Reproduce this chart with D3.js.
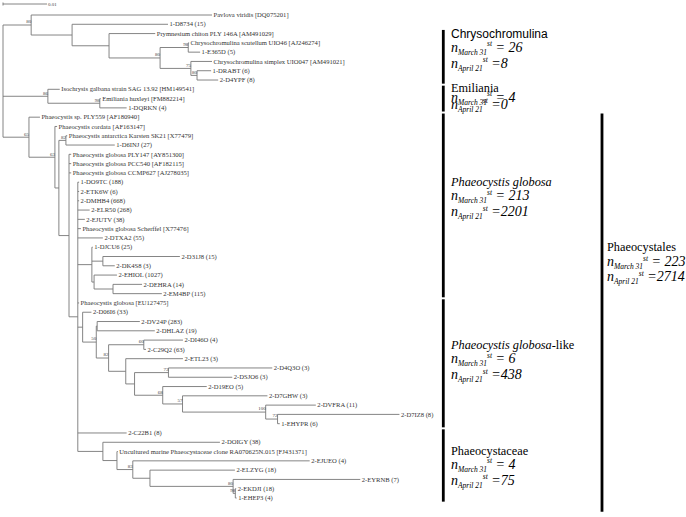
<!DOCTYPE html>
<html>
<head>
<meta charset="utf-8">
<script src="https://cdn.jsdelivr.net/npm/d3@7"></script>
<style>
  body { margin: 0; background: #fff; }
  svg { display: block; }
  .serif { font-family: "Liberation Serif", "Times New Roman", "DejaVu Serif", serif; }
  .sans { font-family: "Liberation Sans", Arial, "DejaVu Sans", sans-serif; }
</style>
</head>
<body>
<div id="chart"></div>
<script>
//////////////////////////// data /////////////////////////////////////////

// [node, parent, branch length (subst./site), bootstrap]
const branches = [
	["root", "", 0, null],
	["c1", "root", 0.0064, 80],
	["Pavlova viridis [DQ075201]", "c1", 0.0411],
	["c2", "c1", 0.0093],
	["1-D8734 (15)", "c2", 0.0218],
	["c3", "c2", 0.0084],
	["Prymnesium chiton PLY 146A [AM491029]", "c3", 0.0105],
	["c4", "c3", 0.0116, 80],
	["c5", "c4", 0.0064, 98],
	["Chrysochromulina scutellum UIO46 [AJ246274]", "c5", 0.0002],
	["1-E365D (5)", "c5", 0.0027],
	["c6", "c4", 0.007, 75],
	["Chrysochromulina simplex UIO047 [AM491021]", "c6", 0.0048],
	["c7", "c6", 0.0014, 80],
	["1-DRABT (6)", "c7", 0.0032],
	["2-D4YPF (8)", "c7", 0.0048],
	["e1", "root", 0.0102, 86],
	["Isochrysis galbana strain SAG 13.92 [HM149541]", "e1", 0.0027],
	["e2", "e1", 0.0118, 98],
	["Emiliania huxleyi [FM882214]", "e2", 0.0002],
	["1-DQRKN (4)", "e2", 0.0061],
	["p0", "root", 0.0059, 65],
	["Phaeocystis sp. PLY559 [AF180940]", "p0", 0.0025],
	["p1", "p0", 0.0059, 63],
	["Phaeocystis cordata [AF163147]", "p1", 0.0005],
	["p3", "p1", 0.0009],
	["p2", "p3", 0.0016, 82],
	["Phaeocystis antarctica Karsten SK21 [X77479]", "p2", 0.0003],
	["1-D6INJ (27)", "p2", 0.0111],
	["p5", "p3", 0.0023],
	["Phaeocystis globosa PLY147 [AY851300]", "p5", 0.0005],
	["Phaeocystis globosa PCC540 [AF182115]", "p5", 0.0005],
	["Phaeocystis globosa CCMP627 [AJ278035]", "p5", 0.0005],
	["g", "p5", 0.002],
	["1-DO9TC (188)", "g", 0.0003],
	["2-ETK6W (6)", "g", 0.0003],
	["2-DMHB4 (668)", "g", 0.0003],
	["2-ELR50 (268)", "g", 0.0027],
	["2-EJUTV (38)", "g", 0.0016],
	["Phaeocystis globosa Scherffel [X77476]", "g", 0.0007],
	["2-DTXA2 (55)", "g", 0.0057],
	["j1", "g", 0.0032],
	["1-DJCU6 (25)", "j1", 0.0002],
	["j2", "j1", 0.0025],
	["2-D31J8 (15)", "j2", 0.0175],
	["2-DK4S8 (3)", "j2", 0.0027],
	["j3", "j1", 0.0005],
	["2-EHIOL (1027)", "j3", 0.0052],
	["j4", "j3", 0.0043],
	["2-DEHRA (14)", "j4", 0.0066],
	["2-EM4BP (115)", "j4", 0.0111],
	["Phaeocystis globosa [EU127475]", "g", 0.0003],
	["q0", "g", 0.0011],
	["2-D06I6 (33)", "q0", 0.002],
	["q1", "q0", 0.0031, 50],
	["q2", "q1", 0.0002],
	["2-DV24P (283)", "q2", 0.0097],
	["2-DHLAZ (19)", "q2", 0.0131],
	["q3", "q1", 0.0028, 82],
	["q4", "q3", 0.008, 60],
	["2-DI46O (4)", "q4", 0.0089],
	["2-C29Q2 (63)", "q4", 0.0005],
	["r1", "q3", 0.0039],
	["2-ETL23 (3)", "r1", 0.013],
	["r2", "r1", 0.002],
	["r3", "r2", 0.0077, 73],
	["2-D4Q3O (3)", "r3", 0.0236],
	["2-DSJO6 (3)", "r3", 0.0145],
	["r4", "r2", 0.0064, 68],
	["2-D19EO (5)", "r4", 0.01],
	["r5", "r4", 0.0045, 57],
	["2-D7GHW (3)", "r5", 0.0193],
	["r6", "r5", 0.0189, 100],
	["2-DVFRA (11)", "r6", 0.0114],
	["r7", "r6", 0.0027, 72],
	["2-D7IZ8 (8)", "r7", 0.0277],
	["1-EHYPR (6)", "r7", 0.0005],
	["2-C22B1 (8)", "g", 0.0111],
	["f1", "g", 0.0057],
	["2-DOIGY (38)", "f1", 0.0266],
	["f2", "f1", 0.0032],
	["Uncultured marine Phaeocystaceae clone RA070625N.015 [FJ431371]", "f2", 0.0002],
	["f3", "f2", 0.0036, 83],
	["2-EJUEO (4)", "f3", 0.0402],
	["f4", "f3", 0.0039],
	["2-ELZYG (18)", "f4", 0.0193],
	["f5", "f4", 0.0189, 80],
	["2-EYRNB (7)", "f5", 0.0289],
	["f6", "f5", 0.0005, 98],
	["2-EKDJI (18)", "f6", 0.0002],
	["1-EHEP3 (4)", "f6", 0.0003]
];

const scaleBarLength = 0.01;

// clade brackets on the right
const cladeNames = ["Chrysochromulina", "Emiliania", "Phaeocystis globosa", "Phaeocystis globosa-like", "Phaeocystaceae"];
const cladeFirst = ["Prymnesium chiton PLY 146A [AM491029]", "Isochrysis galbana strain SAG 13.92 [HM149541]", "Phaeocystis sp. PLY559 [AF180940]", "Phaeocystis globosa [EU127475]", "2-C22B1 (8)"];
const cladeLast = ["2-D4YPF (8)", "1-DQRKN (4)", "2-EM4BP (115)", "1-EHYPR (6)", "1-EHEP3 (4)"];
const cladeMarch = [26, 4, 213, 6, 4];
const cladeApril = [8, 0, 2201, 438, 75];

const orderName = "Phaeocystales";
const orderFirst = "Phaeocystis sp. PLY559 [AF180940]";
const orderLast = "1-EHEP3 (4)";
const orderMarch = 223;
const orderApril = 2714;

//////////////////////////// set up ///////////////////////////////////////

const width = 686;
const height = 517;
const lineColor = "#777";

const svg = d3.select("#chart").append("svg")
	.attr("width", width)
	.attr("height", height)
	.style("background", "#fff");

//////////////////////////// tree /////////////////////////////////////////

const root = d3.stratify()
	.id((d) => d[0])
	.parentId((d) => d[1])(branches);

root.eachBefore((d) => {
	d.dist = d.parent ? d.parent.dist + d.data[2] : 0;
});

const leafNames = root.leaves().map((d) => d.id);

const xScale = d3.scaleLinear().domain([0, scaleBarLength]).range([3, 47]);
const yScale = d3.scalePoint().domain(leafNames).range([15, 498]);
const step = yScale.step();

root.eachAfter((d) => {
	d.x = xScale(d.dist);
	if (!d.children) d.y = yScale(d.id);
	else d.y = (d.children[0].y + d.children[d.children.length - 1].y) / 2;
});

const tree = svg.append("g");

// horizontal branches
tree.selectAll(".hbranch")
	.data(root.descendants().filter((d) => d.parent))
	.join("line")
	.attr("class", "hbranch")
	.attr("x1", (d) => d.parent.x)
	.attr("x2", (d) => d.x)
	.attr("y1", (d) => d.y)
	.attr("y2", (d) => d.y)
	.attr("stroke", lineColor)
	.attr("stroke-width", 0.9);

// vertical connectors
tree.selectAll(".vbranch")
	.data(root.descendants().filter((d) => d.children))
	.join("line")
	.attr("class", "vbranch")
	.attr("x1", (d) => d.x)
	.attr("x2", (d) => d.x)
	.attr("y1", (d) => d.children[0].y)
	.attr("y2", (d) => d.children[d.children.length - 1].y)
	.attr("stroke", lineColor)
	.attr("stroke-width", 0.9);

// leaf labels
tree.selectAll(".leaf")
	.data(root.leaves())
	.join("text")
	.attr("class", "leaf serif")
	.attr("x", (d) => d.x + 1.5)
	.attr("y", (d) => d.y)
	.attr("dy", "0.33em")
	.style("font-size", "6.6px")
	.attr("fill", "#333")
	.text((d) => d.id);

// bootstrap values
tree.selectAll(".boot")
	.data(root.descendants().filter((d) => d.data[3] != null))
	.join("text")
	.attr("class", "boot serif")
	.attr("x", (d) => d.x)
	.attr("y", (d) => d.y - 1.6)
	.attr("text-anchor", "end")
	.style("font-size", "5px")
	.attr("fill", "#444")
	.text((d) => d.data[3]);

// scale bar
const sb = svg.append("g");
sb.append("line")
	.attr("x1", xScale(0)).attr("x2", xScale(scaleBarLength))
	.attr("y1", 4).attr("y2", 4)
	.attr("stroke", lineColor).attr("stroke-width", 0.9);
sb.append("line")
	.attr("x1", xScale(0)).attr("x2", xScale(0))
	.attr("y1", 2.5).attr("y2", 5.5)
	.attr("stroke", lineColor).attr("stroke-width", 0.9);
sb.append("text")
	.attr("class", "serif")
	.attr("x", xScale(scaleBarLength) + 1)
	.attr("y", 4)
	.attr("dy", "0.33em")
	.style("font-size", "5px")
	.attr("fill", "#444")
	.text(scaleBarLength.toFixed(2));

//////////////////////////// clade brackets ///////////////////////////////

const nRow = (g, x, y, sub, eq) => {
	const t = g.append("text")
		.attr("class", "serif")
		.attr("x", x).attr("y", y)
		.style("font-style", "italic")
		.attr("fill", "#000");
	t.append("tspan").style("font-size", "14px").text("n");
	t.append("tspan").style("font-size", "7.5px").attr("dy", 3).text(sub);
	t.append("tspan").style("font-size", "7.5px").attr("dy", -8.5).text("st");
	t.append("tspan").style("font-size", "14px").attr("dy", 5.5).text(eq);
};

const title = (g, x, y, name) => {
	const isSans = name === "Chrysochromulina";
	const t = g.append("text")
		.attr("class", isSans ? "sans" : "serif")
		.attr("x", x).attr("y", y)
		.style("font-size", isSans ? "12px" : "12.3px")
		.attr("fill", "#000");
	if (name.startsWith("Phaeocystis globosa")) {
		t.append("tspan").style("font-style", "italic").text("Phaeocystis globosa");
		t.append("tspan").text(name.replace("Phaeocystis globosa", ""));
	} else {
		t.text(name);
	}
};

// title centre relative to bracket centre
const titleShift = [-23.5, null, -23.8, -18.5, -15];

const brackets = svg.append("g");

cladeNames.forEach((name, i) => {
	const top = yScale(cladeFirst[i]) - step / 2 + 1;
	const bottom = yScale(cladeLast[i]) + step / 2 - 1;
	brackets.append("line")
		.attr("x1", 443.3).attr("x2", 443.3)
		.attr("y1", top).attr("y2", bottom)
		.attr("stroke", "#000").attr("stroke-width", 2.8);

	const compact = titleShift[i] == null;
	const tc = compact ? top + 1.5 : (top + bottom) / 2 + titleShift[i];
	title(brackets, 451, tc + 4.5, name);
	nRow(brackets, 451, tc + (compact ? 10 : 14) + 4.5, "March 31", " = " + cladeMarch[i]);
	nRow(brackets, 451, tc + (compact ? 17 : 30) + 4.5, "April 21", " =" + cladeApril[i]);
});

{
	const top = yScale(orderFirst) - step / 2 + 1;
	const bottom = yScale(orderLast) + step / 2 + 9;
	brackets.append("line")
		.attr("x1", 602).attr("x2", 602)
		.attr("y1", top).attr("y2", bottom)
		.attr("stroke", "#000").attr("stroke-width", 2.8);
	const tc = (top + bottom) / 2 - 66;
	title(brackets, 607, tc + 4.5, orderName);
	nRow(brackets, 607, tc + 15 + 4.5, "March 31", " = " + orderMarch);
	nRow(brackets, 607, tc + 30 + 4.5, "April 21", " =" + orderApril);
}
</script>
</body>
</html>
